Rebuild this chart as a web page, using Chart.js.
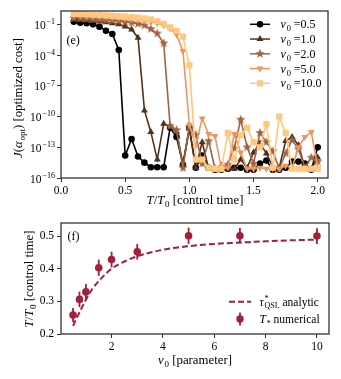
<!DOCTYPE html>
<html>
<head>
<meta charset="utf-8">
<script src="https://cdn.jsdelivr.net/npm/chart.js@4/dist/chart.umd.min.js"></script>
<style>
  html, body { margin: 0; padding: 0; background: #fff; }
  #wrap { position: relative; width: 341px; height: 379px; }
  canvas { position: absolute; left: 0; }
</style>
</head>
<body>
<div id="wrap">
  <canvas id="costChart" width="341" height="208" style="top:0"></canvas>
  <canvas id="timeChart" width="341" height="171" style="top:208px"></canvas>
</div>
<script>
const FONT = 'Liberation Serif';

// ---- panel (e): optimized cost vs control time (values are log10 J) ----
const controlTime = [0.10, 0.15, 0.20, 0.25, 0.30, 0.35, 0.40, 0.45, 0.50, 0.55,
  0.60, 0.65, 0.70, 0.75, 0.80, 0.85, 0.90, 0.95, 1.00, 1.05,
  1.10, 1.15, 1.20, 1.25, 1.30, 1.35, 1.40, 1.45, 1.50, 1.55,
  1.60, 1.65, 1.70, 1.75, 1.80, 1.85, 1.90, 1.95, 2.00];
const nuLegend = ['0.5', '1.0', '2.0', '5.0', '10.0'];
const logCostNu05 = [-0.74, -0.84, -0.90, -1.00, -1.23, -1.62, -1.95, -3.50, -13.8, -12.2,
  -13.9, -14.5, -14.95, -14.95, -14.95, -11.1, -12.0, -14.7, -11.1, -15.0,
  -13.8, -15.0, -15.2, -15.2, -15.1, -15.0, -15.0, -15.2, -15.2, -14.6,
  -14.3, -15.2, -15.2, -15.0, -14.4, -14.4, -14.6, -15.2, -13.0];
const logCostNu1 = [-0.50, -0.55, -0.60, -0.65, -0.72, -0.80, -0.90, -1.00, -1.20, -1.50,
  -2.30, -9.4, -11.5, -14.2, -10.7, -11.0, -11.5, -14.6, -11.2, -15.0,
  -12.5, -15.1, -15.2, -14.8, -15.0, -15.1, -14.2, -15.0, -13.5, -12.6,
  -13.6, -14.9, -15.0, -12.4, -12.0, -12.8, -15.0, -15.1, -14.0];
const logCostNu2 = [-0.40, -0.42, -0.45, -0.50, -0.55, -0.60, -0.65, -0.70, -0.78, -0.85,
  -0.95, -1.10, -1.45, -1.90, -2.85, -10.9, -11.3, -15.0, -11.0, -11.8,
  -14.6, -12.4, -15.1, -15.0, -14.7, -13.1, -10.3, -13.0, -14.6, -11.6,
  -12.5, -13.4, -15.1, -13.6, -12.3, -13.2, -15.0, -14.0, -14.4];
const logCostNu5 = [-0.12, -0.15, -0.18, -0.21, -0.25, -0.29, -0.33, -0.38, -0.43, -0.49,
  -0.56, -0.65, -0.76, -0.90, -1.10, -1.40, -2.00, -3.60, -10.8, -12.8,
  -10.2, -11.7, -11.9, -15.1, -15.0, -11.7, -13.5, -15.1, -15.1, -15.0,
  -15.1, -15.0, -15.1, -14.8, -15.0, -13.0, -12.0, -11.5, -15.0];
const logCostNu10 = [0.02, 0.00, -0.02, -0.05, -0.08, -0.12, -0.16, -0.20, -0.24, -0.29,
  -0.34, -0.42, -0.52, -0.70, -0.95, -1.30, -1.65, -2.20, -5.00, -14.2,
  -14.2, -15.0, -15.1, -15.1, -11.6, -14.2, -11.8, -11.1, -12.5, -13.0,
  -10.75, -15.0, -10.0, -11.6, -15.1, -15.1, -15.1, -15.1, -15.1];
const costTickExps = [-1, -4, -7, -10, -13, -16];
const timeTicks = [0, 0.5, 1, 1.5, 2];

// ---- panel (f): control time vs parameter ----
const nuParam = [0.5, 0.75, 1, 1.5, 2, 3, 5, 7, 10];
const tNumerical = [0.258, 0.306, 0.329, 0.403, 0.428, 0.452, 0.501, 0.501, 0.500];
const tError = [0.022, 0.024, 0.024, 0.025, 0.024, 0.024, 0.025, 0.024, 0.024];
const nuAnalytic = [0.5, 0.6, 0.75, 1.0, 1.25, 1.5, 2.0, 2.5, 3.0, 4.0, 5.0, 6.0, 7.0, 8.0, 9.0, 10.0];
const tauAnalytic = [0.225, 0.242, 0.266, 0.305, 0.338, 0.362, 0.400, 0.422, 0.438, 0.458,
  0.469, 0.476, 0.480, 0.484, 0.487, 0.489];
const nuTicks = [2, 4, 6, 8, 10];
const tTicks = [0.2, 0.3, 0.4, 0.5];

const seriesColors = ['#000000', '#50321f', '#9f643f', '#ef955f', '#ffc77f'];
const crimson = '#a51e3b';

// ---- little rich-text helper (sub/superscripts) ----
function fontStr(size, italic) {
  return (italic ? 'italic ' : '') + size + 'px "' + FONT + '"';
}
function partWidth(ctx, p, size) {
  ctx.font = fontStr(size, p.i);
  let w = p.t ? ctx.measureText(p.t).width : 0;
  let sw = 0;
  ctx.font = fontStr(size * 0.7, false);
  if (p.sup) sw = ctx.measureText(p.sup).width;
  if (p.sub) sw = Math.max(sw, ctx.measureText(p.sub).width);
  return w + (sw ? sw + 0.8 : 0);
}
function drawRich(ctx, parts, x, y, size, align) {
  let total = 0;
  parts.forEach(p => { total += partWidth(ctx, p, size); });
  let cx = align === 'right' ? x - total : align === 'center' ? x - total / 2 : x;
  ctx.textAlign = 'left';
  ctx.textBaseline = 'alphabetic';
  parts.forEach(p => {
    ctx.font = fontStr(size, p.i);
    if (p.t) { ctx.fillText(p.t, cx, y); cx += ctx.measureText(p.t).width; }
    ctx.font = fontStr(size * 0.7, false);
    let sw = 0;
    if (p.sup) { ctx.fillText(p.sup, cx + 0.8, y - size * 0.4); sw = ctx.measureText(p.sup).width; }
    if (p.sub) { ctx.fillText(p.sub, cx + 0.8, y + size * 0.25); sw = Math.max(sw, ctx.measureText(p.sub).width); }
    if (sw) cx += sw + 0.8;
  });
}
function drawRotated(ctx, parts, x, y, size) {
  ctx.save();
  ctx.translate(x, y);
  ctx.rotate(-Math.PI / 2);
  drawRich(ctx, parts, 0, 0, size, 'center');
  ctx.restore();
}
function drawFrame(chart) {
  const a = chart.chartArea, ctx = chart.ctx;
  ctx.save();
  ctx.strokeStyle = '#333';
  ctx.lineWidth = 1.3;
  ctx.strokeRect(a.left, a.top, a.right - a.left, a.bottom - a.top);
  ctx.restore();
}

function makeStar(color, r) {
  const c = document.createElement('canvas');
  const s = Math.ceil(r * 2 + 2);
  c.width = c.height = s;
  const g = c.getContext('2d');
  g.fillStyle = color;
  g.beginPath();
  for (let k = 0; k < 10; k++) {
    const rr = k % 2 ? r * 0.42 : r;
    const ang = -Math.PI / 2 + k * Math.PI / 5;
    g.lineTo(s / 2 + rr * Math.cos(ang), s / 2 + rr * Math.sin(ang));
  }
  g.closePath();
  g.fill();
  return c;
}

const markers = [
  { pointStyle: 'circle', radius: 3.3, rotation: 0 },
  { pointStyle: 'triangle', radius: 4, rotation: 0 },
  { pointStyle: makeStar(seriesColors[2], 4.9), radius: 4.9, rotation: 0 },
  { pointStyle: 'triangle', radius: 4, rotation: 180 },
  { pointStyle: 'rect', radius: 4.4, rotation: 0 }
];
const costSeries = [logCostNu05, logCostNu1, logCostNu2, logCostNu5, logCostNu10];

const axisGrid = { drawOnChartArea: false, drawTicks: true, tickLength: 4, color: '#333', lineWidth: 1 };
const tickFont = { family: FONT, size: 11.5 };

/* panel (e) */
const costDecor = {
  id: 'costDecor',
  afterDraw(chart) {
    const ctx = chart.ctx, ys = chart.scales.y;
    drawFrame(chart);
    ctx.save();
    ctx.fillStyle = '#000';
    costTickExps.forEach(e => {
      const py = ys.getPixelForValue(Math.pow(10, e));
      drawRich(ctx, [{ t: '10', sup: '\u2212' + Math.abs(e) }], 55, py + 4.5, 11.5, 'right');
    });
    drawRotated(ctx, [{ t: 'J', i: true }, { t: '(' }, { t: '\u03b1', i: true, sub: 'opt' }, { t: ') [optimized cost]' }], 21.5, 98, 12.8);
    drawRich(ctx, [{ t: 'T', i: true }, { t: '/' }, { t: 'T', i: true, sub: '0' }, { t: ' [control time]' }], 195, 204, 12.8, 'center');
    ctx.font = fontStr(12, false);
    ctx.fillText('(e)', 66.5, 44);
    // legend
    nuLegend.forEach((lab, i) => {
      const ly = 24.3 + i * 14.75;
      ctx.strokeStyle = seriesColors[i];
      ctx.lineWidth = 1.5;
      ctx.beginPath(); ctx.moveTo(250, ly); ctx.lineTo(270, ly); ctx.stroke();
      ctx.fillStyle = seriesColors[i];
      Chart.helpers.drawPoint(ctx, { pointStyle: markers[i].pointStyle, radius: markers[i].radius, rotation: markers[i].rotation, borderWidth: 0 }, 260, ly);
      ctx.fillStyle = '#000';
      drawRich(ctx, [{ t: '\u03bd', i: true, sub: '0' }, { t: ' =' + lab }], 280.5, ly + 4, 12, 'left');
    });
    ctx.restore();
  }
};

new Chart(document.getElementById('costChart'), {
  type: 'line',
  data: {
    datasets: costSeries.map((s, i) => ({
      label: 'nu0 = ' + nuLegend[i],
      data: s.map((e, k) => ({ x: controlTime[k], y: Math.pow(10, e) })),
      borderColor: seriesColors[i],
      backgroundColor: seriesColors[i],
      pointBackgroundColor: seriesColors[i],
      pointBorderColor: seriesColors[i],
      pointBorderWidth: 0,
      pointStyle: markers[i].pointStyle,
      pointRadius: markers[i].radius,
      pointRotation: markers[i].rotation,
      borderWidth: 1.6,
      tension: 0,
      order: 4 - i
    }))
  },
  options: {
    responsive: false,
    animation: false,
    devicePixelRatio: 1,
    layout: { padding: { left: 0, right: 13, top: 11, bottom: 0 } },
    plugins: { legend: { display: false }, tooltip: { enabled: false } },
    scales: {
      x: {
        type: 'linear', min: 0, max: 2.08,
        afterBuildTicks: s => { s.ticks = timeTicks.map(v => ({ value: v })); },
        afterFit: s => { s.height = 30; },
        ticks: { font: tickFont, color: '#000', padding: 2, maxRotation: 0, autoSkip: false, callback: v => v.toFixed(1) },
        grid: axisGrid,
        border: { display: false }
      },
      y: {
        type: 'logarithmic', min: 1e-16, max: 2,
        afterBuildTicks: s => { s.ticks = costTickExps.map(e => ({ value: Math.pow(10, e) })); },
        afterFit: s => { s.width = 61; },
        ticks: { display: false },
        grid: axisGrid,
        border: { display: false }
      }
    }
  },
  plugins: [costDecor]
});

/* panel (f) */
const timeDecor = {
  id: 'timeDecor',
  afterDatasetsDraw(chart) {
    const ctx = chart.ctx, xs = chart.scales.x, ys = chart.scales.y;
    ctx.save();
    ctx.strokeStyle = crimson;
    ctx.lineWidth = 1.8;
    nuParam.forEach((n, i) => {
      const px = xs.getPixelForValue(n);
      ctx.beginPath();
      ctx.moveTo(px, ys.getPixelForValue(tNumerical[i] - tError[i]));
      ctx.lineTo(px, ys.getPixelForValue(tNumerical[i] + tError[i]));
      ctx.stroke();
    });
    ctx.restore();
  },
  afterDraw(chart) {
    const ctx = chart.ctx;
    drawFrame(chart);
    ctx.save();
    ctx.fillStyle = '#000';
    drawRotated(ctx, [{ t: 'T', i: true }, { t: '/' }, { t: 'T', i: true, sub: '0' }, { t: ' [control time]' }], 32.5, 71, 12.8);
    drawRich(ctx, [{ t: '\u03bd', i: true, sub: '0' }, { t: ' [parameter]' }], 195, 156, 12.8, 'center');
    ctx.font = fontStr(12, false);
    ctx.fillText('(f)', 67.5, 31.5);
    // legend
    ctx.strokeStyle = crimson;
    ctx.lineWidth = 2;
    ctx.setLineDash([6, 3]);
    ctx.beginPath(); ctx.moveTo(229, 93.7); ctx.lineTo(251, 93.7); ctx.stroke();
    ctx.setLineDash([]);
    ctx.lineWidth = 1.8;
    ctx.beginPath(); ctx.moveTo(240, 104.5); ctx.lineTo(240, 117.5); ctx.stroke();
    ctx.fillStyle = crimson;
    ctx.beginPath(); ctx.arc(240, 111, 3.7, 0, Math.PI * 2); ctx.fill();
    ctx.fillStyle = '#000';
    drawRich(ctx, [{ t: '\u03c4', i: true, sup: '*', sub: 'QSL' }, { t: ' analytic' }], 259.5, 97.5, 11.5, 'left');
    drawRich(ctx, [{ t: 'T', i: true, sub: '*' }, { t: ' numerical' }], 259.5, 115, 11.5, 'left');
    ctx.restore();
  }
};

new Chart(document.getElementById('timeChart'), {
  type: 'line',
  data: {
    datasets: [
      {
        label: 'tau QSL analytic',
        data: nuAnalytic.map((n, i) => ({ x: n, y: tauAnalytic[i] })),
        borderColor: crimson,
        borderWidth: 2,
        borderDash: [6, 3],
        pointRadius: 0,
        cubicInterpolationMode: 'monotone',
        order: 1
      },
      {
        label: 'T* numerical',
        data: nuParam.map((n, i) => ({ x: n, y: tNumerical[i] })),
        showLine: false,
        pointStyle: 'circle',
        pointRadius: 3.8,
        pointBackgroundColor: crimson,
        pointBorderColor: crimson,
        pointBorderWidth: 0,
        order: 0
      }
    ]
  },
  options: {
    responsive: false,
    animation: false,
    devicePixelRatio: 1,
    layout: { padding: { left: 0, right: 12, top: 15, bottom: 0 } },
    plugins: { legend: { display: false }, tooltip: { enabled: false } },
    scales: {
      x: {
        type: 'linear', min: 0.03, max: 10.47,
        afterBuildTicks: s => { s.ticks = nuTicks.map(v => ({ value: v })); },
        afterFit: s => { s.height = 45; },
        ticks: { font: tickFont, color: '#000', padding: 2, maxRotation: 0, autoSkip: false },
        grid: axisGrid,
        border: { display: false }
      },
      y: {
        type: 'linear', min: 0.2, max: 0.54,
        afterBuildTicks: s => { s.ticks = tTicks.map(v => ({ value: v })); },
        afterFit: s => { s.width = 61; },
        ticks: { font: tickFont, color: '#000', padding: 3, autoSkip: false, callback: v => v.toFixed(1) },
        grid: axisGrid,
        border: { display: false }
      }
    }
  },
  plugins: [timeDecor]
});
</script>
</body>
</html>
